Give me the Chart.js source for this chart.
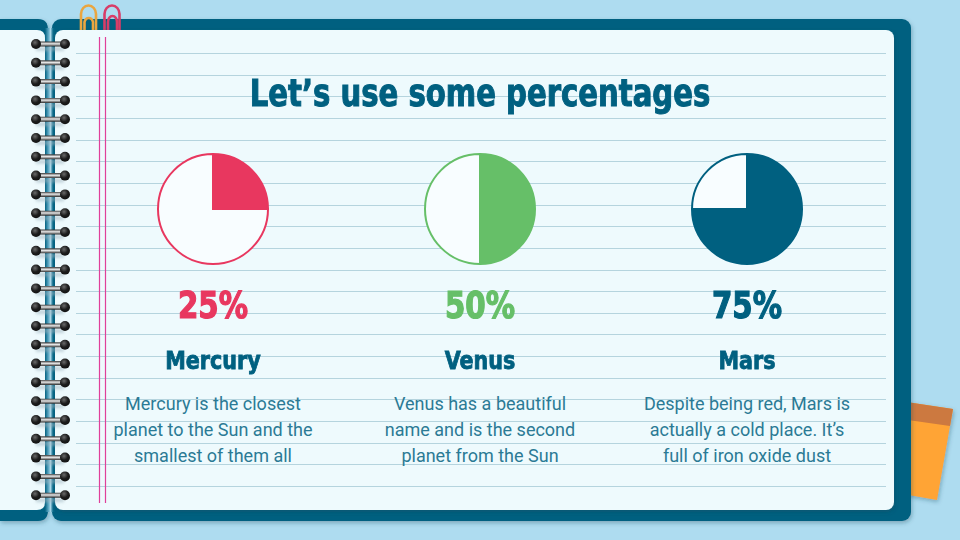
<!DOCTYPE html>
<html>
<head>
<meta charset="utf-8">
<script src="https://cdn.jsdelivr.net/npm/chart.js@4"></script>
<style>
html,body{margin:0;padding:0;width:960px;height:540px;overflow:hidden;background:#aedcf0;}
#deco{position:absolute;left:0;top:0;}
.pie{position:absolute;top:153px;width:112px;height:112px;}
.txt{position:absolute;width:260px;text-align:center;white-space:nowrap;}
#title{position:absolute;left:130px;width:700px;top:67px;text-align:center;color:#006080;font-family:"DejaVu Sans Condensed","DejaVu Sans",sans-serif;font-weight:700;font-size:37px;line-height:54px;transform:scaleX(.875);-webkit-text-stroke:1px #006080;}
.pct{top:282px;font-size:37px;line-height:48px;font-family:"DejaVu Sans Condensed","DejaVu Sans",sans-serif;font-weight:700;transform:scaleX(.88);-webkit-text-stroke:1.2px;}
.name{top:343px;font-size:25px;line-height:36px;color:#006080;font-family:"DejaVu Sans Condensed","DejaVu Sans",sans-serif;font-weight:700;transform:scaleX(.92);-webkit-text-stroke:.8px #006080;}
.desc{top:391px;font-size:18px;line-height:26px;color:#2b7a95;font-family:Roboto,sans-serif;}
</style>
</head>
<body>
<svg id="deco" width="960" height="540" xmlns="http://www.w3.org/2000/svg">
  <defs>
    <filter id="sh" x="-10%" y="-10%" width="120%" height="120%"><feDropShadow dx="1" dy="2" stdDeviation="2" flood-color="#245" flood-opacity=".35"/></filter>
    <filter id="soft" x="-20%" y="-50%" width="140%" height="250%"><feGaussianBlur stdDeviation="1.5"/></filter>
    <linearGradient id="spine" x1="0" x2="1" y1="0" y2="0">
      <stop offset="0" stop-color="#006080"/><stop offset=".35" stop-color="#5fa9c4"/><stop offset=".55" stop-color="#a9d6e8"/><stop offset=".8" stop-color="#0a6a8a"/><stop offset="1" stop-color="#006080"/>
    </linearGradient>
    <linearGradient id="wire" x1="0" x2="0" y1="0" y2="1">
      <stop offset="0" stop-color="#3a3a3a"/><stop offset=".45" stop-color="#e8e8e8"/><stop offset="1" stop-color="#2c2c2c"/>
    </linearGradient>
    <radialGradient id="hole" cx=".4" cy=".35" r=".7"><stop offset="0" stop-color="#6a6a6a"/><stop offset=".55" stop-color="#1d1d1d"/><stop offset="1" stop-color="#111"/></radialGradient>
  </defs>
  <!-- sticky note -->
  <g filter="url(#sh)">
    <polygon points="880,398 953,409 937,500 880,490" fill="#ffa435"/>
    <polygon points="880,398 953,409 950,426 880,416" fill="#cc793f"/>
  </g>
  <!-- covers -->
  <path d="M0,19 H38 Q48,19 48,30 V510 Q48,521 38,521 H0 Z" fill="#006080" filter="url(#sh)"/>
  <rect x="52" y="19" width="859" height="502" rx="9" fill="#006080" filter="url(#sh)"/>
  <!-- paper clips -->
  <g fill="none" stroke-width="2.6">
    <g stroke="#eaa640"><path d="M81,30 V14 A7.5,8.5 0 0 1 96,14 V30"/><path d="M84.5,30 V22 A4.5,6 0 0 1 93,22 V30"/></g>
    <g stroke="#d83d68"><path d="M104.5,30 V14 A7.5,8.5 0 0 1 119.5,14 V30"/><path d="M108,30 V22 A4.5,6 0 0 1 117,22 V30"/></g>
  </g>
  <!-- pages -->
  <rect x="45" y="28" width="10" height="484" fill="url(#spine)"/>
  <path d="M0,30 H37 Q45,30 45,38 V502 Q45,510 37,510 H0 Z" fill="#eefafd"/>
  <rect x="55" y="30" width="839" height="480" rx="8" fill="#eefafd" filter="url(#sh)"/>
  <g id="rules" stroke="#b5d4de" stroke-width="1"></g>
  <line x1="99.5" x2="99.5" y1="37" y2="503" stroke="#e0409a" stroke-width="1.2"/>
  <line x1="105.5" x2="105.5" y1="37" y2="503" stroke="#e0409a" stroke-width="1.2"/>
  <g id="rings"></g>
</svg>

<div id="title">Let’s use some percentages</div>
<div id="cols"></div>

<script>
const categories = ['Mercury', 'Venus', 'Mars'];
const filled = [25, 50, 75];
const remaining = [75, 50, 25];
const colors = ['#e8375f', '#66bf68', '#006080'];
const pctLabels = ['25%', '50%', '75%'];
const descriptions = [
  ['Mercury is the closest', 'planet to the Sun and the', 'smallest of them all'],
  ['Venus has a beautiful', 'name and is the second', 'planet from the Sun'],
  ['Despite being red, Mars is', 'actually a cold place. It’s', 'full of iron oxide dust']
];
const centers = [213, 480, 747];

// notebook lines and spiral
const NS = 'http://www.w3.org/2000/svg';
function add(parent, tag, attrs) {
  const el = document.createElementNS(NS, tag);
  for (const k in attrs) el.setAttribute(k, attrs[k]);
  parent.appendChild(el);
}
const rules = document.getElementById('rules');
for (let i = 0; i < 21; i++) {
  const y = Math.round(53 + i * 21.65) + .5;
  add(rules, 'line', {x1: 76, x2: 886, y1: y, y2: y});
}
const rings = document.getElementById('rings');
for (let i = 0; i < 25; i++) {
  const y = 44 + i * 18.8;
  add(rings, 'rect', {x: 36, y: y + 3, width: 28, height: 4, fill: '#9fb4bf', opacity: .55, filter: 'url(#soft)'});
  add(rings, 'rect', {x: 35, y: y - 2.5, width: 30, height: 5, rx: 2.5, fill: 'url(#wire)'});
  add(rings, 'circle', {cx: 36, cy: y, r: 5, fill: 'url(#hole)'});
  add(rings, 'circle', {cx: 65, cy: y, r: 5, fill: 'url(#hole)'});
}

const cols = document.getElementById('cols');
for (let i = 0; i < categories.length; i++) {
  const c = document.createElement('canvas');
  c.className = 'pie';
  c.width = 112; c.height = 112;
  c.style.left = (centers[i] - 56) + 'px';
  cols.appendChild(c);

  const pct = document.createElement('div');
  pct.className = 'txt pct';
  pct.style.left = (centers[i] - 130) + 'px';
  pct.style.color = colors[i];
  pct.textContent = pctLabels[i];
  cols.appendChild(pct);

  const name = document.createElement('div');
  name.className = 'txt name';
  name.style.left = (centers[i] - 130) + 'px';
  name.textContent = categories[i];
  cols.appendChild(name);

  const desc = document.createElement('div');
  desc.className = 'txt desc';
  desc.style.left = (centers[i] - 130) + 'px';
  desc.innerHTML = descriptions[i].join('<br>');
  cols.appendChild(desc);

  new Chart(c.getContext('2d'), {
    type: 'pie',
    data: {
      labels: [categories[i], 'rest'],
      datasets: [{
        data: [filled[i], remaining[i]],
        backgroundColor: [colors[i], '#f8fdff'],
        borderColor: colors[i],
        borderWidth: 2,
        borderJoinStyle: 'miter'
      }]
    },
    options: {
      responsive: false,
      animation: false,
      plugins: { legend: { display: false }, tooltip: { enabled: false } }
    }
  });
}
</script>
</body>
</html>
